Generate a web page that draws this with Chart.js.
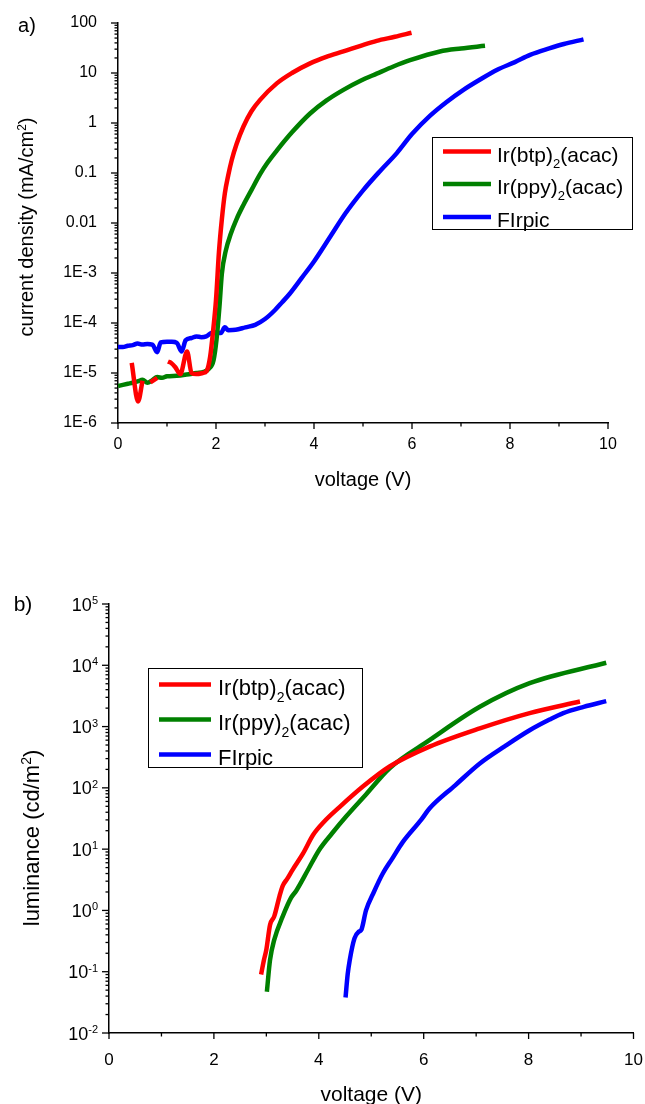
<!DOCTYPE html>
<html>
<head>
<meta charset="UTF-8">
<title>J-V and L-V curves</title>
<script src="https://cdn.jsdelivr.net/npm/chart.js@4.4.1/dist/chart.umd.min.js"></script>
<style>
  body { margin: 0; background: #fff; }
  canvas { position: absolute; left: 0; }
  #jv { top: 0; }
  #lv { top: 540px; }
</style>
</head>
<body>
<canvas id="jv" width="645" height="540"></canvas>
<canvas id="lv" width="645" height="564"></canvas>
<script>
// ---- data ----
const seriesNames = ['Ir(btp)2(acac)', 'Ir(ppy)2(acac)', 'FIrpic'];

// a) current density (mA/cm2) vs voltage (V); null = no data (gap)
const jvBtpV = [0.28, 0.41, 0.50, 0.58, 0.66, 0.80, 0.90, 1.02, 1.08, 1.17, 1.27, 1.41, 1.50, 1.60, 1.73, 1.81, 1.88, 1.95, 2.00, 2.06, 2.12, 2.18, 2.25, 2.32, 2.42, 2.56, 2.72, 2.90, 3.24, 3.55, 3.92, 4.25, 4.60, 4.95, 5.28, 5.65, 5.99];
const jvBtpJ = [1.6e-5, 2.7e-6, 7e-6, null, 6.5e-6, 8e-6, null, 1.7e-5, 1.6e-5, 1.3e-5, 9.5e-6, 2.7e-5, 1.0e-5, 9.5e-6, 1.0e-5, 1.1e-5, 2.1e-5, 8.5e-5, 2.9e-4, 2.6e-3, 0.012, 0.039, 0.09, 0.18, 0.38, 0.85, 1.7, 2.9, 6.2, 10, 15.6, 21, 27, 35, 44, 53, 64];

const jvPpyV = [0, 0.1, 0.2, 0.3, 0.4, 0.5, 0.6, 0.7, 0.8, 0.9, 1.0, 1.2, 1.4, 1.6, 1.75, 1.85, 1.95, 2.01, 2.07, 2.12, 2.20, 2.30, 2.42, 2.56, 2.72, 2.90, 3.05, 3.24, 3.55, 3.92, 4.25, 4.60, 4.95, 5.28, 5.62, 5.96, 6.57, 7.00, 7.49];
const jvPpyJ = [5.5e-6, 5.8e-6, 6.1e-6, 6.4e-6, 6.8e-6, 7.3e-6, 6.4e-6, 7.2e-6, 8.3e-6, 8.0e-6, 8.6e-6, 8.8e-6, 9.3e-6, 1.0e-5, 1.05e-5, 1.2e-5, 1.8e-5, 4.6e-5, 2.1e-4, 9.8e-4, 2.8e-3, 6e-3, 0.012, 0.023, 0.045, 0.095, 0.16, 0.28, 0.65, 1.55, 2.8, 4.6, 7, 9.7, 13.5, 18, 27, 31, 35];

const jvFirV = [0, 0.1, 0.2, 0.3, 0.4, 0.5, 0.6, 0.7, 0.8, 0.87, 1.0, 1.1, 1.2, 1.3, 1.38, 1.5, 1.6, 1.7, 1.8, 1.9, 2.0, 2.1, 2.18, 2.25, 2.4, 2.6, 2.8, 3.0, 3.2, 3.35, 3.5, 3.75, 4.0, 4.33, 4.65, 5.01, 5.35, 5.69, 6.0, 6.37, 6.7, 7.05, 7.4, 7.73, 8.1, 8.41, 8.8, 9.1, 9.5];
const jvFirJ = [3.3e-5, 3.3e-5, 3.5e-5, 3.6e-5, 3.9e-5, 3.7e-5, 3.8e-5, 3.7e-5, 2.6e-5, 4.1e-5, 4.2e-5, 4.2e-5, 4.0e-5, 2.7e-5, 4.5e-5, 5.0e-5, 5.4e-5, 5.2e-5, 5.4e-5, 6.3e-5, 6.5e-5, 6.3e-5, 8.2e-5, 7.2e-5, 7.3e-5, 8.2e-5, 9.2e-5, 1.2e-4, 1.8e-4, 2.6e-4, 3.8e-4, 8e-4, 1.7e-3, 5.3e-3, 0.016, 0.046, 0.11, 0.25, 0.6, 1.4, 2.6, 4.6, 7.5, 11.5, 16.5, 23, 31, 38, 47];

const jTickValues = [1e-6, 1e-5, 1e-4, 1e-3, 0.01, 0.1, 1, 10, 100];
const jTickLabels = ['1E-6', '1E-5', '1E-4', '1E-3', '0.01', '0.1', '1', '10', '100'];

// b) luminance (cd/m2) vs voltage (V)
const lvBtpV = [2.90, 2.95, 3.00, 3.07, 3.15, 3.25, 3.31, 3.40, 3.50, 3.70, 3.89, 4.10, 4.40, 4.84, 5.35, 6.11, 7.07, 8.02, 8.98];
const lvBtpL = [0.09, 0.15, 0.23, 0.58, 0.8, 1.7, 2.5, 3.3, 4.6, 8.5, 17, 28, 49, 105, 223, 470, 935, 1660, 2570];

const lvPpyV = [3.01, 3.07, 3.15, 3.31, 3.47, 3.57, 3.80, 4.01, 4.25, 4.52, 4.90, 5.35, 6.11, 7.07, 8.02, 9.48];
const lvPpyL = [0.047, 0.155, 0.33, 0.79, 1.6, 2.1, 4.7, 9.8, 18, 34, 78, 209, 600, 2100, 5100, 11000];

const lvFirV = [4.51, 4.55, 4.59, 4.68, 4.76, 4.81, 4.90, 5.05, 5.22, 5.40, 5.60, 5.95, 6.11, 6.60, 7.07, 7.55, 8.02, 8.40, 8.66, 9.05, 9.48];
const lvFirL = [0.038, 0.09, 0.155, 0.35, 0.45, 0.48, 1.0, 2.0, 4, 7, 13, 30, 46, 110, 250, 480, 870, 1300, 1660, 2100, 2600];

const lumTickExps = [-2, -1, 0, 1, 2, 3, 4, 5];

// ---- styling ----
const FONT = '"Liberation Sans", Arial, sans-serif';
const seriesColors = ['#ff0000', '#008000', '#0000ff'];
Chart.defaults.font.family = FONT;
Chart.defaults.color = '#000';

function pts(xs, ys) {
  return xs.map((x, i) => ({ x: x, y: ys[i] }));
}

function curve(i, xs, ys) {
  return {
    label: seriesNames[i],
    data: pts(xs, ys),
    borderColor: seriesColors[i],
    backgroundColor: seriesColors[i],
    borderWidth: 4.5,
    pointRadius: 0,
    fill: false,
    spanGaps: false,
    cubicInterpolationMode: 'monotone',
    borderJoinStyle: 'round'
  };
}

// "Ir(btp)2(acac)" -> runs, a digit right after ")" is a subscript
function formulaRuns(s) {
  const runs = [];
  let buf = '';
  for (let i = 0; i < s.length; i++) {
    const c = s[i];
    if (/\d/.test(c) && s[i - 1] === ')') {
      if (buf) runs.push({ t: buf });
      runs.push({ t: c, sub: true });
      buf = '';
    } else {
      buf += c;
    }
  }
  if (buf) runs.push({ t: buf });
  return runs;
}

function drawRuns(ctx, runs, x, y, size, align) {
  const fontOf = r => ((r.sub || r.sup) ? Math.round(size * 0.62) : size) + 'px ' + FONT;
  let w = 0;
  runs.forEach(r => { ctx.font = fontOf(r); r.w = ctx.measureText(r.t).width; w += r.w; });
  let cx = align === 'center' ? x - w / 2 : align === 'right' ? x - w : x;
  ctx.textAlign = 'left';
  ctx.textBaseline = 'alphabetic';
  runs.forEach(r => {
    ctx.font = fontOf(r);
    const dy = r.sub ? size * 0.3 : r.sup ? -size * 0.36 : 0;
    ctx.fillText(r.t, cx, y + dy);
    cx += r.w;
  });
}

function seg(ctx, x0, y0, x1, y1) {
  ctx.beginPath();
  ctx.moveTo(x0, y0);
  ctx.lineTo(x1, y1);
  ctx.stroke();
}

// tick marks, labels, titles and legend box
const decor = {
  id: 'decor',
  afterDraw(chart, args, o) {
    const ctx = chart.ctx;
    const xs = chart.scales.x, ys = chart.scales.y;
    const a = chart.chartArea;
    ctx.save();
    ctx.strokeStyle = '#000';
    ctx.fillStyle = '#000';
    ctx.lineWidth = 1.3;

    for (let v = xs.min; v <= xs.max; v += 1) {
      const px = xs.getPixelForValue(v);
      seg(ctx, px, a.bottom, px, a.bottom + (v % 2 === 0 ? 6 : 3.5));
    }
    const e0 = Math.round(Math.log10(ys.min)), e1 = Math.round(Math.log10(ys.max));
    for (let e = e0; e <= e1; e++) {
      const py = ys.getPixelForValue(Math.pow(10, e));
      seg(ctx, a.left, py, a.left - 7, py);
      if (e < e1) {
        for (let k = 2; k <= 9; k++) {
          const pm = ys.getPixelForValue(k * Math.pow(10, e));
          seg(ctx, a.left, pm, a.left - 3.5, pm);
        }
      }
    }

    if (o.powerTicks) {
      o.powerTicks.forEach(e => {
        const py = ys.getPixelForValue(Math.pow(10, e));
        drawRuns(ctx, [{ t: '10' }, { t: String(e), sup: true }], a.left - 11, py + 6.5, 18, 'right');
      });
    }

    // panel letter
    ctx.font = o.panel.size + 'px ' + FONT;
    ctx.textAlign = 'center';
    ctx.textBaseline = 'middle';
    ctx.fillText(o.panel.text, o.panel.x, o.panel.y);

    // axis titles
    drawRuns(ctx, [{ t: 'voltage (V)' }], (a.left + a.right) / 2, o.xTitleY, o.titleSize, 'center');
    ctx.save();
    ctx.translate(o.yTitle.x, o.yTitle.y);
    ctx.rotate(-Math.PI / 2);
    drawRuns(ctx, o.yTitle.runs, 0, 0, o.yTitle.size || o.titleSize, 'center');
    ctx.restore();

    // legend
    const L = o.legend;
    ctx.lineWidth = 1;
    ctx.strokeRect(L.x0 + 0.5, L.y0 + 0.5, L.x1 - L.x0, L.y1 - L.y0);
    chart.data.datasets.forEach((ds, i) => {
      const ry = L.rows[i];
      ctx.strokeStyle = ds.borderColor;
      ctx.lineWidth = 4.5;
      seg(ctx, L.lineX0, ry, L.lineX1, ry);
      ctx.fillStyle = '#000';
      drawRuns(ctx, formulaRuns(ds.label), L.textX, ry + L.size * 0.48, L.size, 'left');
    });
    ctx.restore();
  }
};

const axisBorder = { display: true, color: '#000', width: 1.5 };

// keep the plot edge where the layout padding puts it
function noEdgePadding(s) {
  s.paddingLeft = 0;
  s.paddingRight = 0;
}

new Chart(document.getElementById('jv'), {
  type: 'line',
  data: {
    datasets: [
      curve(0, jvBtpV, jvBtpJ),
      curve(1, jvPpyV, jvPpyJ),
      curve(2, jvFirV, jvFirJ)
    ]
  },
  options: {
    responsive: false,
    animation: false,
    layout: { padding: { left: 0, right: 37, top: 23, bottom: 0 } },
    scales: {
      x: {
        type: 'linear', min: 0, max: 10,
        grid: { display: false },
        border: axisBorder,
        ticks: { stepSize: 2, maxRotation: 0, padding: 4, font: { size: 16 } },
        afterFit(s) { s.height = 117; noEdgePadding(s); }
      },
      y: {
        type: 'logarithmic', min: 1e-6, max: 100,
        grid: { display: false },
        border: axisBorder,
        ticks: { autoSkip: false, padding: 13, font: { size: 16 }, callback: (v, i) => jTickLabels[i] },
        afterBuildTicks(s) { s.ticks = jTickValues.map(v => ({ value: v, major: true })); },
        afterFit(s) { s.width = 118; }
      }
    },
    plugins: {
      legend: { display: false },
      tooltip: { enabled: false },
      decor: {
        panel: { text: 'a)', x: 27, y: 26, size: 20 },
        titleSize: 20,
        xTitleY: 486,
        yTitle: { x: 33, y: 227, runs: [{ t: 'current density (mA/cm' }, { t: '2', sup: true }, { t: ')' }] },
        legend: { x0: 432, y0: 137, x1: 632, y1: 229, rows: [151.5, 184, 217], lineX0: 443, lineX1: 491, textX: 497, size: 21 }
      }
    }
  },
  plugins: [decor]
});

new Chart(document.getElementById('lv'), {
  type: 'line',
  data: {
    datasets: [
      curve(0, lvBtpV, lvBtpL),
      curve(1, lvPpyV, lvPpyL),
      curve(2, lvFirV, lvFirL)
    ]
  },
  options: {
    responsive: false,
    animation: false,
    layout: { padding: { left: 0, right: 11.5, top: 64, bottom: 0 } },
    scales: {
      x: {
        type: 'linear', min: 0, max: 10,
        grid: { display: false },
        border: axisBorder,
        ticks: { stepSize: 2, maxRotation: 0, padding: 9, font: { size: 17 } },
        afterFit(s) { s.height = 71; noEdgePadding(s); }
      },
      y: {
        type: 'logarithmic', min: 1e-2, max: 1e5,
        grid: { display: false },
        border: axisBorder,
        ticks: { display: false },
        afterFit(s) { s.width = 109; }
      }
    },
    plugins: {
      legend: { display: false },
      tooltip: { enabled: false },
      decor: {
        powerTicks: lumTickExps,
        panel: { text: 'b)', x: 23, y: 65, size: 21 },
        titleSize: 21,
        xTitleY: 560.5,
        yTitle: { x: 39, y: 298, size: 22, runs: [{ t: 'luminance (cd/m' }, { t: '2', sup: true }, { t: ')' }] },
        legend: { x0: 148, y0: 128, x1: 362, y1: 227, rows: [144.5, 179.5, 214.5], lineX0: 159, lineX1: 211, textX: 218, size: 22 }
      }
    }
  },
  plugins: [decor]
});
</script>
</body>
</html>
